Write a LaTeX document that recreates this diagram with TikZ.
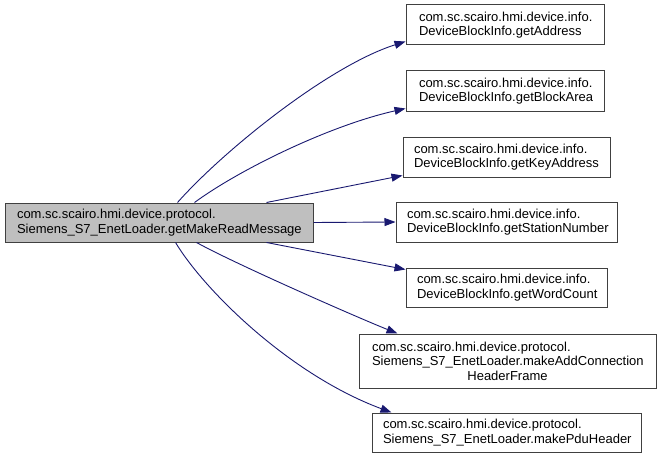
\documentclass[tikz,border=0pt]{standalone}
\usepackage{fontspec}
\setmainfont{Liberation Sans}
\usetikzlibrary{arrows.meta}
\definecolor{edgeblue}{HTML}{191970}
\definecolor{boxline}{HTML}{404040}
\definecolor{mainfill}{HTML}{BFBFBF}
\tikzset{
  fn/.style={draw=boxline, line width=1pt, fill=white, rectangle, align=left,
    inner ysep=0pt, font=\fontsize{13}{14.5}\selectfont},
  mainfn/.style={fn, fill=mainfill},
  call/.style={draw=edgeblue, line width=0.9pt,
    -{Triangle[length=11pt,width=8pt]}},
}
\begin{document}
\begin{tikzpicture}[x=1pt,y=-1pt]
\useasboundingbox (0,0) rectangle (659,460);
\node[mainfn, text width=284pt, inner xsep=12pt, minimum height=39pt] (main) at (159,222.5)
  {com.sc.scairo.hmi.device.protocol.\\Siemens\_S7\_EnetLoader.getMakeReadMessage};
\node[fn, text width=172pt, inner xsep=13pt, minimum height=40pt] (addr) at (505,25)
  {com.sc.scairo.hmi.device.info.\\DeviceBlockInfo.getAddress};
\node[fn, text width=172pt, inner xsep=13pt, minimum height=40pt] (area) at (505,91)
  {com.sc.scairo.hmi.device.info.\\DeviceBlockInfo.getBlockArea};
\node[fn, text width=185pt, inner xsep=11pt, minimum height=40pt] (key) at (506.5,157)
  {com.sc.scairo.hmi.device.info.\\DeviceBlockInfo.getKeyAddress};
\node[fn, text width=199pt, inner xsep=11pt, minimum height=40pt] (station) at (506.5,222)
  {com.sc.scairo.hmi.device.info.\\DeviceBlockInfo.getStationNumber};
\node[fn, text width=179pt, inner xsep=11pt, minimum height=39pt] (word) at (506.5,287.5)
  {com.sc.scairo.hmi.device.info.\\DeviceBlockInfo.getWordCount};
\node[fn, text width=271pt, inner xsep=13pt, minimum height=54pt] (conn) at (507.5,361)
  {com.sc.scairo.hmi.device.protocol.\\Siemens\_S7\_EnetLoader.makeAddConnection\\\makebox[\linewidth][c]{HeaderFrame}};
\node[fn, text width=247pt, inner xsep=11pt, minimum height=39pt] (pdu) at (506.5,432.5)
  {com.sc.scairo.hmi.device.protocol.\\Siemens\_S7\_EnetLoader.makePduHeader};

\draw[call] ([xshift=173pt]main.north west) .. controls +(47,-53) and +(-76,24) .. ([yshift=4pt]addr.south west);
\draw[call] ([xshift=190pt]main.north west) .. controls +(45,-33) and +(-76,17) .. ([yshift=3pt]area.south west);
\draw[call] ([xshift=262pt]main.north west) -- ([yshift=2pt]key.south west);
\draw[call] (main.east) -- (station.west);
\draw[call] ([xshift=262pt]main.south west) -- ([yshift=-2pt]word.north west);
\draw[call] ([xshift=192pt]main.south west) .. controls +(40,22) and +(-40,-16) .. ([xshift=39pt]conn.north west);
\draw[call] ([xshift=171pt]main.south west) .. controls +(29,48) and +(-102,-38) .. ([xshift=20pt]pdu.north west);
\end{tikzpicture}
\end{document}
